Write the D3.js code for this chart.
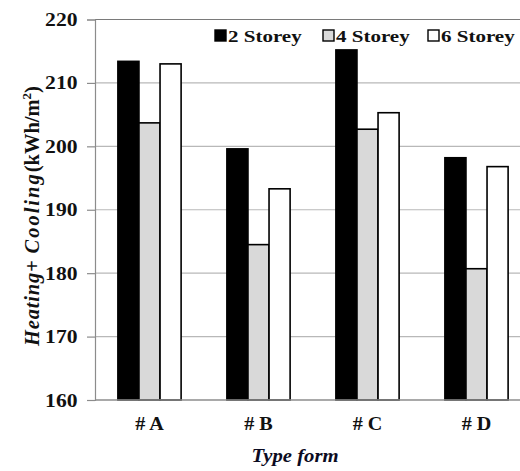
<!DOCTYPE html>
<html>
<head>
<meta charset="utf-8">
<script src="https://cdn.jsdelivr.net/npm/d3@7"></script>
<style>
  body { margin: 0; background: #fff; }
</style>
</head>
<body>
<div id="chart"></div>
<script>
// chart data
const categories = ["# A", "# B", "# C", "# D"];
const seriesNames = ["2 Storey", "4 Storey", "6 Storey"];
const storey2 = [213.4, 199.6, 215.2, 198.2];
const storey4 = [203.7, 184.5, 202.7, 180.7];
const storey6 = [213.0, 193.3, 205.3, 196.8];
const yTicks = [160, 170, 180, 190, 200, 210, 220];

const fills = ["#000000", "#d9d9d9", "#ffffff"];
const serif = "Liberation Serif";
const sx = 1.2; // reference text looks stretched horizontally

// set the dimensions and margins of the graph
const margin = {top: 19.5, left: 95},
      width = 436,
      height = 380.5;

const svg = d3.select("#chart").append("svg")
              .attr("width", 520)
              .attr("height", 471)
              .attr("font-family", serif);

const g = svg.append("g")
             .attr("transform", "translate(" + margin.left + "," + margin.top + ")");

// scales
const x0 = d3.scaleBand().domain(categories).range([0, width])
             .paddingInner(0.42).paddingOuter(0.21);
const x1 = d3.scaleBand().domain(seriesNames).range([0, x0.bandwidth()]);
const y = d3.scaleLinear().domain([160, 220]).range([height, 0]);

// gridlines
g.selectAll("line.grid")
 .data(yTicks.filter(d => d > 160))
 .enter().append("line")
 .attr("class", "grid")
 .attr("x1", 0).attr("x2", width)
 .attr("y1", d => y(d)).attr("y2", d => y(d))
 .attr("stroke", d => d === 220 ? "#7a7a7a" : "#b8b8b8")
 .attr("stroke-width", 1.2);

// bars
const rows = categories.map((c, i) => ({cat: c, vals: [storey2[i], storey4[i], storey6[i]]}));

const groups = g.selectAll("g.cat")
                .data(rows)
                .enter().append("g")
                .attr("transform", d => "translate(" + x0(d.cat) + ",0)");

groups.selectAll("rect")
      .data(d => d.vals.map((v, j) => ({name: seriesNames[j], value: v, j: j})))
      .enter().append("rect")
      .attr("x", d => x1(d.name))
      .attr("width", x1.bandwidth())
      .attr("y", d => y(d.value))
      .attr("height", d => height - y(d.value))
      .attr("fill", d => fills[d.j])
      .attr("stroke", "#000")
      .attr("stroke-width", 1.6);

// Y axis
const yAxis = g.append("g")
               .call(d3.axisLeft(y).tickValues(yTicks).tickSize(8).tickFormat(d3.format("d")))
               .attr("font-family", serif);
yAxis.select(".domain").attr("stroke", "#8c8c8c").attr("stroke-width", 1.2);
yAxis.selectAll(".tick line").attr("stroke", "#8c8c8c").attr("stroke-width", 1.2);
yAxis.selectAll(".tick text")
     .attr("x", null).attr("dy", null)
     .attr("transform", "translate(-17.5,6) scale(" + sx + ",1)")
     .attr("font-family", serif)
     .attr("font-size", 18)
     .attr("font-weight", "bold")
     .attr("fill", "#111");

// X axis line
g.append("line")
 .attr("x1", 0).attr("x2", width)
 .attr("y1", height).attr("y2", height)
 .attr("stroke", "#8c8c8c")
 .attr("stroke-width", 1.4);

// category labels
g.selectAll("text.cat")
 .data(categories)
 .enter().append("text")
 .attr("class", "cat")
 .attr("text-anchor", "middle")
 .attr("transform", d => "translate(" + (x0(d) + x0.bandwidth() / 2) + "," + (height + 29.5) + ") scale(1.12,1)")
 .attr("font-family", serif)
 .attr("font-size", 18)
 .attr("font-weight", "bold")
 .attr("fill", "#111")
 .text(d => d);

// axis titles
svg.append("text")
   .attr("text-anchor", "middle")
   .attr("transform", "translate(295,462) scale(1.15,1)")
   .attr("font-family", serif)
   .attr("font-size", 18)
   .attr("font-weight", "bold")
   .attr("font-style", "italic")
   .attr("fill", "#0b0b22")
   .text("Type form");

const yTitle = svg.append("text")
                  .attr("text-anchor", "middle")
                  .attr("transform", "translate(39,216) rotate(-90)")
                  .attr("font-family", serif)
                  .attr("font-size", 20.5)
                  .attr("font-weight", "bold")
                  .attr("fill", "#111");
yTitle.append("tspan").attr("font-style", "italic").attr("letter-spacing", 0.8).text("Heating+ ");
yTitle.append("tspan").attr("font-style", "italic").attr("letter-spacing", 2).text("Cooling");
yTitle.append("tspan").text("(kWh/m");
yTitle.append("tspan").attr("font-size", 13).attr("dy", -8).text("2");
yTitle.append("tspan").attr("dy", 8).text(")");

// legend
const legendX = [215, 323, 428];
const legend = svg.selectAll("g.legend")
                  .data(seriesNames)
                  .enter().append("g")
                  .attr("transform", (d, i) => "translate(" + legendX[i] + ",30)");
legend.append("rect")
      .attr("width", 11).attr("height", 11)
      .attr("fill", (d, i) => fills[i])
      .attr("stroke", "#000")
      .attr("stroke-width", 1.4);
legend.append("text")
      .attr("transform", "translate(13,11.5) scale(" + sx + ",1)")
      .attr("font-family", serif)
      .attr("font-size", 17.5)
      .attr("font-weight", "bold")
      .attr("fill", "#111")
      .text(d => d);
</script>
</body>
</html>
